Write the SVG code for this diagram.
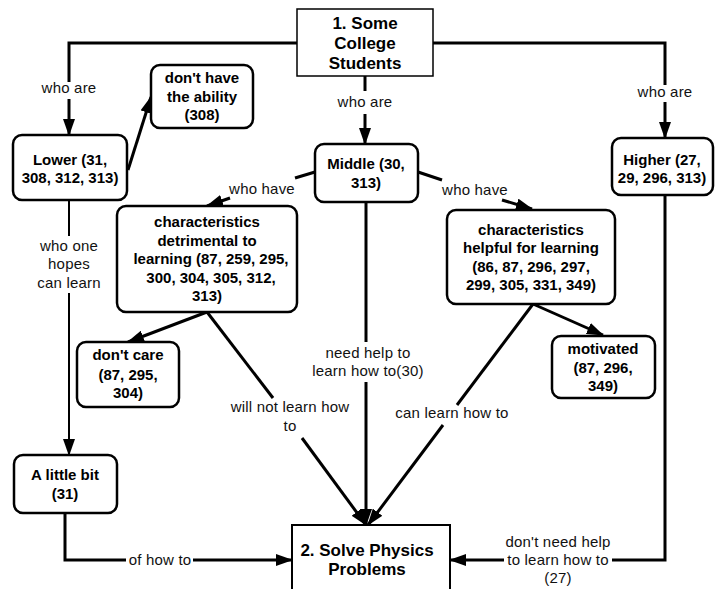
<svg xmlns="http://www.w3.org/2000/svg" width="721" height="589" viewBox="0 0 721 589">
<style>
.n{fill:#fff;stroke:#000;stroke-width:2.5}
.t{fill:#fff;stroke:#000;stroke-width:1.5}
.nt{font-family:"Liberation Sans",Arial,sans-serif;font-size:15px;font-weight:bold;text-anchor:middle;fill:#000}
.tt{font-family:"Liberation Sans",Arial,sans-serif;font-size:17px;font-weight:bold;text-anchor:middle;fill:#000}
.c{fill:none;stroke:#000;stroke-width:3;marker-end:url(#ah)}
.cn{fill:none;stroke:#000;stroke-width:3}
.thin{stroke-width:2}
.l{font-family:"Liberation Sans",Arial,sans-serif;font-size:15px;text-anchor:middle;fill:#111;letter-spacing:0.2px}
</style>
<defs>
<marker id="ah" markerUnits="userSpaceOnUse" markerWidth="17" markerHeight="12" refX="16" refY="6" orient="auto">
<path d="M0,0 L17,6 L0,12 z" fill="#000"/>
</marker>
</defs>
<rect width="721" height="589" fill="#fff"/>
<g id="connectors">
<path class="cn" d="M297,43 H69 V82"/>
<path class="c" d="M69,99 V135"/>
<path class="cn" d="M365,76 V91"/>
<path class="c" d="M365,114 V144"/>
<path class="cn" d="M433,43 H665 V85"/>
<path class="c" d="M665,102 V138"/>
<path class="c" d="M128,170 L151,97"/>
<path class="cn" d="M315,172 L295,178"/>
<path class="c" d="M230,198 L207,206"/>
<path class="cn" d="M418,172 L442,180"/>
<path class="c" d="M502,200 L532,209"/>
<path class="c" d="M207,312 L128,342"/>
<path class="cn" d="M207,312 L273,398"/>
<path class="c" d="M302,438 L366,525"/>
<path class="cn" d="M366,202 V342"/>
<path class="c" d="M366,382 V525"/>
<path class="cn" d="M533,304 L457,405"/>
<path class="c" d="M443,425 L368,525"/>
<path class="c" d="M533,304 L603,335"/>
<path class="cn thin" d="M69,200 V236"/>
<path class="c thin" d="M69,293 V455"/>
<path class="cn" d="M65,513 V560 H126"/>
<path class="c" d="M193,560 H292"/>
<path class="cn" d="M665,195 V560 H612"/>
<path class="c" d="M504,560 H450"/>
<text class="l" x="69" y="93">who are</text>
<text class="l" x="365" y="107">who are</text>
<text class="l" x="665" y="97">who are</text>
<text class="l" x="262" y="194">who have</text>
<text class="l" x="475" y="195">who have</text>
<text class="l" x="69" y="251">who one</text>
<text class="l" x="69" y="269">hopes</text>
<text class="l" x="69" y="288">can learn</text>
<text class="l" x="290" y="412">will not learn how</text>
<text class="l" x="290" y="431">to</text>
<text class="l" x="368" y="358">need help to</text>
<text class="l" x="368" y="376">learn how to(30)</text>
<text class="l" x="452" y="418">can learn how to</text>
<text class="l" x="160" y="565">of how to</text>
<text class="l" x="558" y="547">don't need help</text>
<text class="l" x="558" y="565">to learn how to</text>
<text class="l" x="558" y="583">(27)</text>
</g>
<g id="n1">
<rect class="t" x="297" y="9" width="136" height="67"/>
<text class="tt" x="365" y="29">1. Some</text>
<text class="tt" x="365" y="49">College</text>
<text class="tt" x="365" y="69">Students</text>
</g>
<g id="lower">
<rect class="n" x="13" y="135" width="114" height="65" rx="9"/>
<text class="nt" x="70" y="165">Lower (31,</text>
<text class="nt" x="70" y="183">308, 312, 313)</text>
</g>
<g id="ability">
<rect class="n" x="151" y="65" width="102" height="63" rx="9"/>
<text class="nt" x="202" y="83">don't have</text>
<text class="nt" x="202" y="102">the ability</text>
<text class="nt" x="202" y="120">(308)</text>
</g>
<g id="middle">
<rect class="n" x="315" y="144" width="103" height="58" rx="9"/>
<text class="nt" x="366" y="169">Middle (30,</text>
<text class="nt" x="366" y="188">313)</text>
</g>
<g id="higher">
<rect class="n" x="612" y="138" width="101" height="57" rx="9"/>
<text class="nt" x="662" y="165">Higher (27,</text>
<text class="nt" x="662" y="183">29, 296, 313)</text>
</g>
<g id="detrimental">
<rect class="n" x="117" y="206" width="180" height="106" rx="9"/>
<text class="nt" x="207" y="227">characteristics</text>
<text class="nt" x="207" y="246">detrimental to</text>
<text class="nt" x="211" y="264">learning (87, 259, 295,</text>
<text class="nt" x="211" y="283">300, 304, 305, 312,</text>
<text class="nt" x="207" y="301">313)</text>
</g>
<g id="helpful">
<rect class="n" x="447" y="210" width="168" height="94" rx="9"/>
<text class="nt" x="531" y="235">characteristics</text>
<text class="nt" x="531" y="253">helpful for learning</text>
<text class="nt" x="531" y="272">(86, 87, 296, 297,</text>
<text class="nt" x="531" y="290">299, 305, 331, 349)</text>
</g>
<g id="motivated">
<rect class="n" x="552" y="336" width="103" height="62" rx="9"/>
<text class="nt" x="603" y="354">motivated</text>
<text class="nt" x="603" y="373">(87, 296,</text>
<text class="nt" x="603" y="391">349)</text>
</g>
<g id="dontcare">
<rect class="n" x="77" y="342" width="102" height="65" rx="9"/>
<text class="nt" x="128" y="360">don't care</text>
<text class="nt" x="128" y="380">(87, 295,</text>
<text class="nt" x="128" y="398">304)</text>
</g>
<g id="littlebit">
<rect class="n" x="14" y="455" width="103" height="58" rx="9"/>
<text class="nt" x="65" y="480">A little bit</text>
<text class="nt" x="65" y="499">(31)</text>
</g>
<g id="n2">
<rect class="t" x="292" y="525" width="158" height="80" style="stroke-width:2"/>
<text class="tt" x="367" y="556">2. Solve Physics</text>
<text class="tt" x="367" y="575">Problems</text>
</g>
</svg>
